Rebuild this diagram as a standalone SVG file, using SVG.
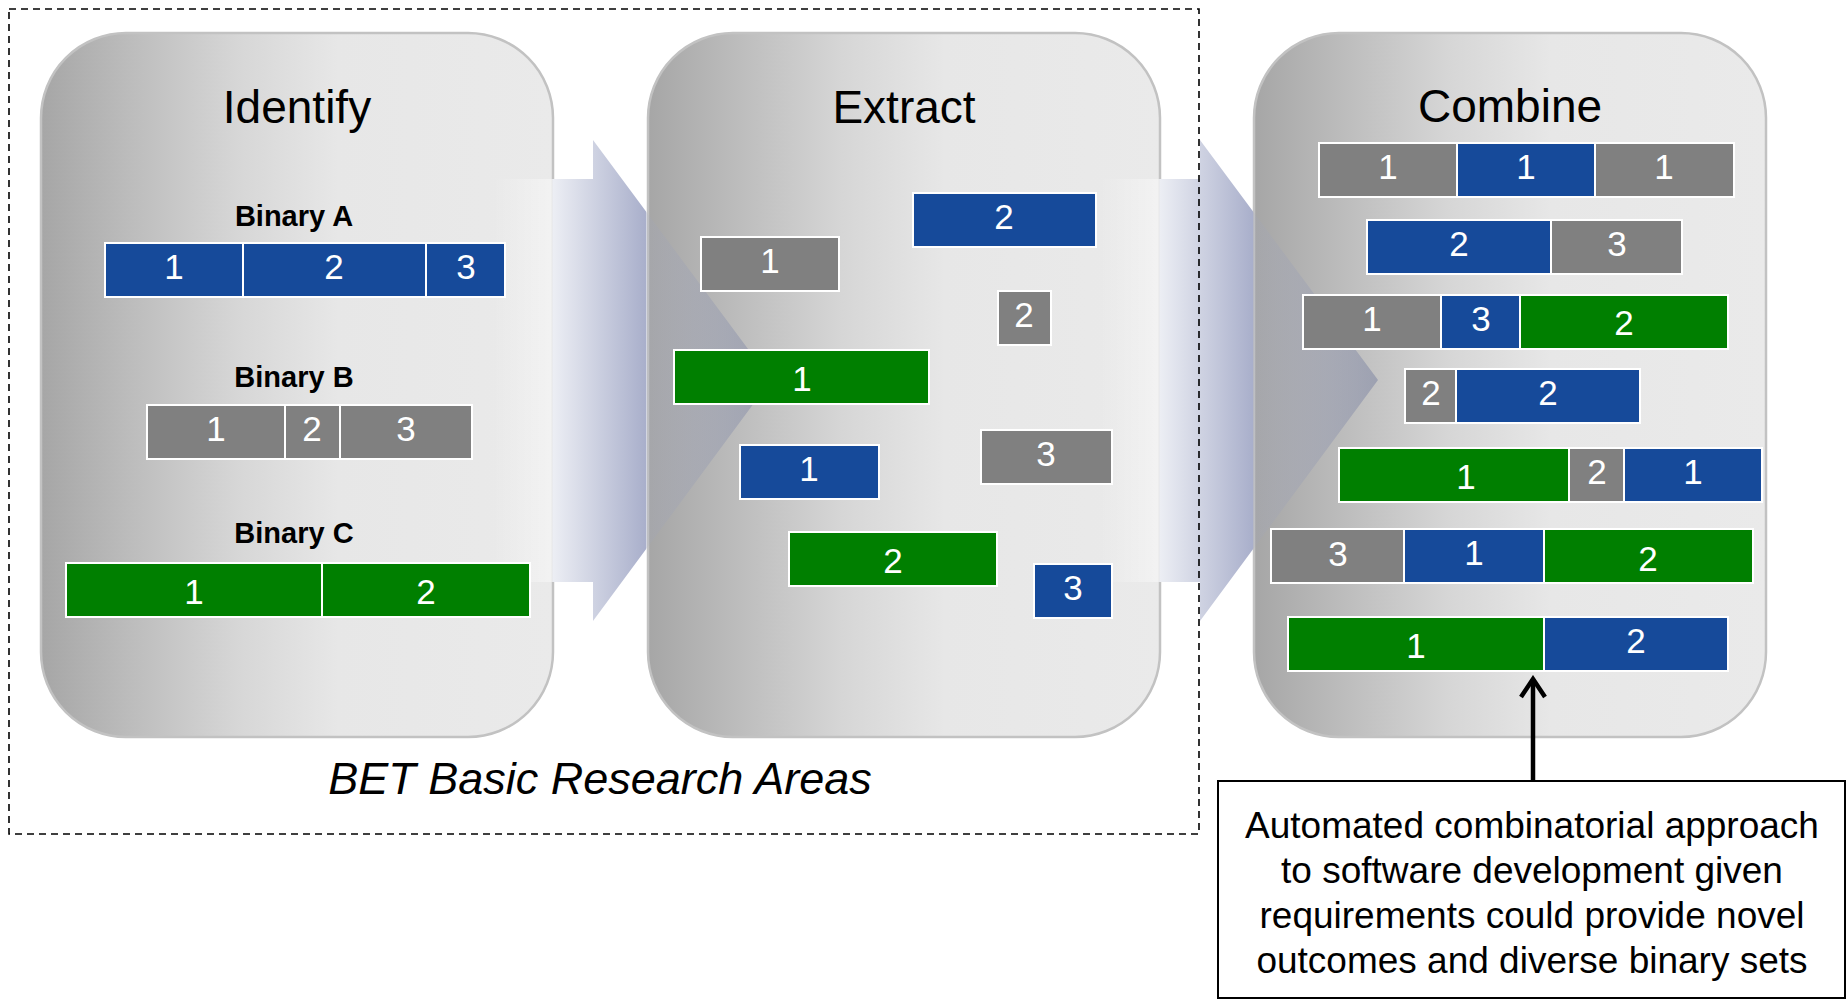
<svg xmlns="http://www.w3.org/2000/svg" width="1847" height="999" viewBox="0 0 1847 999">
<style>
  .panel { stroke: #c2c2c2; stroke-width: 2.5; }
  .title { font-family: "Liberation Sans", Arial, sans-serif; font-size: 46px; fill: #000; text-anchor: middle; }
  .blabel { font-family: "Liberation Sans", Arial, sans-serif; font-size: 29px; font-weight: bold; fill: #000; text-anchor: middle; }
  .seg { stroke: #ffffff; stroke-width: 2; }
  .b { fill: #164a9a; }
  .g { fill: #808080; }
  .gr { fill: #007f00; }
  .d { font-family: "Liberation Sans", Arial, sans-serif; font-size: 35px; fill: #ffffff; text-anchor: middle; }
  .note { font-family: "Liberation Sans", Arial, sans-serif; font-size: 37px; fill: #000; text-anchor: middle; }
  .area { font-family: "Liberation Sans", Arial, sans-serif; font-size: 45px; font-style: italic; fill: #000; text-anchor: middle; }
  .big { fill: url(#arrowGrad); }
</style>
<defs>
  <linearGradient id="panelGrad" x1="0" y1="0" x2="1" y2="0">
    <stop offset="0" stop-color="#a6a6a6"/>
    <stop offset="0.18" stop-color="#bdbdbd"/>
    <stop offset="0.38" stop-color="#d6d6d6"/>
    <stop offset="0.58" stop-color="#e7e7e7"/>
    <stop offset="1" stop-color="#eaeaea"/>
  </linearGradient>
  <linearGradient id="arrowGrad" x1="0" y1="0" x2="1" y2="0">
    <stop offset="0" stop-color="#ffffff" stop-opacity="0"/>
    <stop offset="0.21" stop-color="#ffffff" stop-opacity="0.4"/>
    <stop offset="0.216" stop-color="#eceef4" stop-opacity="1"/>
    <stop offset="0.55" stop-color="#a9afcb" stop-opacity="1"/>
    <stop offset="0.553" stop-color="#a0a7c6" stop-opacity="0.12"/>
    <stop offset="1" stop-color="#6c7599" stop-opacity="0.45"/>
  </linearGradient>
  <marker id="chev" viewBox="-24 -16 28 32" refX="0" refY="0" markerWidth="28" markerHeight="32" markerUnits="userSpaceOnUse" orient="auto">
    <path d="M-18,-12 L0,0 L-18,12" fill="none" stroke="#000" stroke-width="4.5" stroke-linejoin="miter"/>
  </marker>
</defs>
<rect width="1847" height="999" fill="#ffffff"/>

<g id="panel-identify-bg"><rect class="panel" x="41" y="33" width="512" height="704" rx="85" ry="85" fill="url(#panelGrad)"/></g>
<g id="panel-extract-bg"><rect class="panel" x="648" y="33" width="512" height="704" rx="85" ry="85" fill="url(#panelGrad)"/></g>
<g id="panel-combine-bg"><rect class="panel" x="1254" y="33" width="512" height="704" rx="85" ry="85" fill="url(#panelGrad)"/></g>

<g id="connectors">
  <path id="arrow-identify-extract" class="big" d="M493,179 H593 V140 L771,380 L593,621 V582 H493 Z"/>
  <path id="arrow-extract-combine" class="big" d="M1100,179 H1200 V140 L1378,380 L1200,621 V582 H1100 Z"/>
  <line id="note-pointer" x1="1533" y1="781" x2="1533" y2="679" stroke="#000" stroke-width="4.5" marker-end="url(#chev)"/>
</g>

<g id="research-areas-frame">
  <rect x="9" y="9" width="1190" height="825" fill="none" stroke="#000" stroke-width="1.6" stroke-dasharray="7,5"/>
  <text class="area" x="600" y="794">BET Basic Research Areas</text>
</g>

<g id="identify">
  <text class="title" x="297" y="123">Identify</text>
  <text class="blabel" x="294" y="226">Binary A</text>
  <rect class="seg b" x="105" y="243" width="138" height="54"/>
  <rect class="seg b" x="243" y="243" width="183" height="54"/>
  <rect class="seg b" x="426" y="243" width="79" height="54"/>
  <text class="d" x="174" y="279">1</text>
  <text class="d" x="334" y="279">2</text>
  <text class="d" x="466" y="279">3</text>
  <text class="blabel" x="294" y="387">Binary B</text>
  <rect class="seg g" x="147" y="405" width="138" height="54"/>
  <rect class="seg g" x="285" y="405" width="55" height="54"/>
  <rect class="seg g" x="340" y="405" width="132" height="54"/>
  <text class="d" x="216" y="441">1</text>
  <text class="d" x="312" y="441">2</text>
  <text class="d" x="406" y="441">3</text>
  <text class="blabel" x="294" y="543">Binary C</text>
  <rect class="seg gr" x="66" y="563" width="256" height="54"/>
  <rect class="seg gr" x="322" y="563" width="208" height="54"/>
  <text class="d" x="194" y="604">1</text>
  <text class="d" x="426" y="604">2</text>
</g>

<g id="extract">
  <text class="title" x="904" y="123">Extract</text>
  <rect class="seg b" x="913" y="193" width="183" height="54"/>
  <text class="d" x="1004" y="229">2</text>
  <rect class="seg g" x="701" y="237" width="138" height="54"/>
  <text class="d" x="770" y="273">1</text>
  <rect class="seg g" x="998" y="291" width="53" height="54"/>
  <text class="d" x="1024" y="327">2</text>
  <rect class="seg gr" x="674" y="350" width="255" height="54"/>
  <text class="d" x="802" y="391">1</text>
  <rect class="seg g" x="981" y="430" width="131" height="54"/>
  <text class="d" x="1046" y="466">3</text>
  <rect class="seg b" x="740" y="445" width="139" height="54"/>
  <text class="d" x="809" y="481">1</text>
  <rect class="seg gr" x="789" y="532" width="208" height="54"/>
  <text class="d" x="893" y="573">2</text>
  <rect class="seg b" x="1034" y="564" width="78" height="54"/>
  <text class="d" x="1073" y="600">3</text>
</g>

<g id="combine">
  <text class="title" x="1510" y="122">Combine</text>
  <rect class="seg g" x="1319" y="143" width="138" height="54"/>
  <rect class="seg b" x="1457" y="143" width="138" height="54"/>
  <rect class="seg g" x="1595" y="143" width="139" height="54"/>
  <text class="d" x="1388" y="179">1</text>
  <text class="d" x="1526" y="179">1</text>
  <text class="d" x="1664" y="179">1</text>

  <rect class="seg b" x="1367" y="220" width="184" height="54"/>
  <rect class="seg g" x="1551" y="220" width="131" height="54"/>
  <text class="d" x="1459" y="256">2</text>
  <text class="d" x="1617" y="256">3</text>

  <rect class="seg g" x="1303" y="295" width="138" height="54"/>
  <rect class="seg b" x="1441" y="295" width="79" height="54"/>
  <rect class="seg gr" x="1520" y="295" width="208" height="54"/>
  <text class="d" x="1372" y="331">1</text>
  <text class="d" x="1481" y="331">3</text>
  <text class="d" x="1624" y="335">2</text>

  <rect class="seg g" x="1405" y="369" width="51" height="54"/>
  <rect class="seg b" x="1456" y="369" width="184" height="54"/>
  <text class="d" x="1431" y="405">2</text>
  <text class="d" x="1548" y="405">2</text>

  <rect class="seg gr" x="1339" y="448" width="230" height="54"/>
  <rect class="seg g" x="1569" y="448" width="55" height="54"/>
  <rect class="seg b" x="1624" y="448" width="138" height="54"/>
  <text class="d" x="1466" y="489">1</text>
  <text class="d" x="1597" y="484">2</text>
  <text class="d" x="1693" y="484">1</text>

  <rect class="seg g" x="1271" y="529" width="133" height="54"/>
  <rect class="seg b" x="1404" y="529" width="140" height="54"/>
  <rect class="seg gr" x="1544" y="529" width="209" height="54"/>
  <text class="d" x="1338" y="566">3</text>
  <text class="d" x="1474" y="565">1</text>
  <text class="d" x="1648" y="571">2</text>

  <rect class="seg gr" x="1288" y="617" width="256" height="54"/>
  <rect class="seg b" x="1544" y="617" width="184" height="54"/>
  <text class="d" x="1416" y="658">1</text>
  <text class="d" x="1636" y="653">2</text>
</g>

<g id="note">
  <rect x="1218" y="781" width="627" height="217" fill="#ffffff" stroke="#000" stroke-width="2"/>
  <text class="note" x="1532" y="838">Automated combinatorial approach</text>
  <text class="note" x="1532" y="883">to software development given</text>
  <text class="note" x="1532" y="928">requirements could provide novel</text>
  <text class="note" x="1532" y="973">outcomes and diverse binary sets</text>
</g>
</svg>
